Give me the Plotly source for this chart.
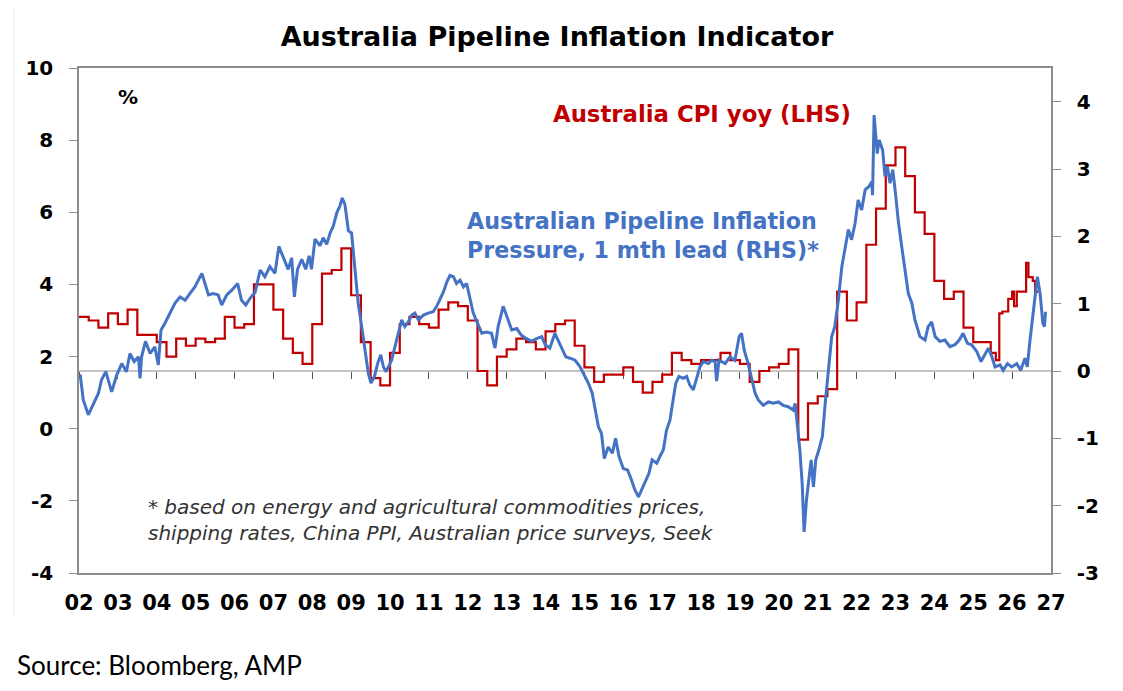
"""
Australia Pipeline Inflation Indicator — CPI yoy (LHS, step) vs pipeline pressure (RHS).
Values read off the AMP chart by eye.
"""
import plotly.graph_objects as go

# ── Australia CPI yoy (%), quarterly steps from 2002Q1 ──
cpi_q_start = 2002.0
cpi_q = [3.1, 3.0, 2.8, 3.2, 2.9, 3.3, 2.6, 2.6,
         2.4, 2.0, 2.5, 2.3, 2.5, 2.4, 2.5, 3.1,
         2.8, 2.9, 4.0, 4.0, 3.3, 2.5, 2.1, 1.8,
         2.9, 4.3, 4.4, 5.0, 3.7, 2.4, 1.4, 1.2,
         2.1, 2.9, 3.1, 2.9, 2.8, 3.3, 3.5, 3.4,
         3.0, 1.6, 1.2, 2.0, 2.2, 2.5, 2.4, 2.2,
         2.7, 2.9, 3.0, 2.3, 1.7, 1.3, 1.5, 1.5,
         1.7, 1.3, 1.0, 1.3, 1.5, 2.1, 1.9, 1.8,
         1.9, 1.9, 2.1, 1.9, 1.8, 1.3, 1.6, 1.7,
         1.8, 2.2, -0.3, 0.7, 0.9, 1.1, 3.8, 3.0,
         3.5, 5.1, 6.1, 7.3, 7.8, 7.0, 6.0, 5.4,
         4.1, 3.6, 3.8, 2.8, 2.4, 2.4]
# monthly CPI tail
cpi_m_x = [2025.45, 2025.58, 2025.67, 2025.75, 2025.90, 2026.00, 2026.05,
           2026.12, 2026.36, 2026.42, 2026.53, 2026.59, 2026.67]
cpi_m = [2.1, 1.9, 3.2, 3.25, 3.6, 3.8, 3.4, 3.8, 4.6, 4.2, 4.1, 3.8, 3.8]

# ── Pipeline inflation pressure (RHS) ──
pip_x = [2002.03, 2002.11, 2002.24, 2002.37, 2002.50, 2002.58, 2002.69, 2002.84, 2002.97,
         2003.10, 2003.22, 2003.31, 2003.42, 2003.53, 2003.57, 2003.61, 2003.71, 2003.83, 2003.95,
         2004.04, 2004.11, 2004.21, 2004.34, 2004.47, 2004.60, 2004.73, 2004.85, 2004.98,
         2005.07, 2005.16, 2005.24, 2005.33, 2005.45, 2005.58, 2005.67, 2005.80, 2005.93,
         2006.08, 2006.18, 2006.29, 2006.40, 2006.53, 2006.66, 2006.78, 2006.91,
         2007.04, 2007.14, 2007.25, 2007.38, 2007.47, 2007.54, 2007.62, 2007.73, 2007.83, 2007.92, 2007.98,
         2008.07, 2008.20, 2008.28, 2008.37, 2008.46, 2008.54, 2008.63, 2008.71, 2008.77, 2008.84, 2008.93,
         2009.01, 2009.10, 2009.18, 2009.27, 2009.36, 2009.44, 2009.51, 2009.60, 2009.68, 2009.76, 2009.83, 2009.90,
         2010.04, 2010.13, 2010.21, 2010.30, 2010.38, 2010.47, 2010.56, 2010.64, 2010.73, 2010.86, 2010.98,
         2011.11, 2011.20, 2011.28, 2011.37, 2011.46, 2011.54, 2011.63, 2011.71, 2011.80, 2011.89, 2011.97,
         2012.06, 2012.14, 2012.25, 2012.36, 2012.48, 2012.61, 2012.70, 2012.78, 2012.91,
         2013.04, 2013.13, 2013.26, 2013.38, 2013.51, 2013.64, 2013.77, 2013.90, 2013.99,
         2014.11, 2014.24, 2014.33, 2014.41, 2014.52, 2014.63, 2014.76, 2014.89,
         2015.00, 2015.10, 2015.20, 2015.27, 2015.36, 2015.44, 2015.51, 2015.61, 2015.72, 2015.80, 2015.89,
         2016.00, 2016.11, 2016.21, 2016.30, 2016.39, 2016.47, 2016.57, 2016.66, 2016.74, 2016.86, 2016.94,
         2017.03, 2017.11, 2017.20, 2017.28, 2017.35, 2017.43, 2017.54, 2017.63, 2017.71, 2017.80, 2017.88, 2017.97,
         2018.06, 2018.19, 2018.27, 2018.36, 2018.40, 2018.46, 2018.62, 2018.74, 2018.87, 2018.98,
         2019.04, 2019.11, 2019.21, 2019.30, 2019.39, 2019.47, 2019.60, 2019.73, 2019.86, 2019.99,
         2020.11, 2020.24, 2020.37, 2020.42, 2020.48, 2020.54, 2020.60, 2020.65, 2020.71, 2020.78, 2020.83, 2020.89, 2020.95,
         2021.03, 2021.12, 2021.20, 2021.29, 2021.36, 2021.44, 2021.53, 2021.62, 2021.70, 2021.79, 2021.87, 2021.96,
         2022.04, 2022.13, 2022.22, 2022.32, 2022.39, 2022.41, 2022.45, 2022.53, 2022.58, 2022.67, 2022.73, 2022.79, 2022.86, 2022.93, 2022.99,
         2023.07, 2023.16, 2023.24, 2023.33, 2023.42, 2023.50, 2023.63, 2023.76, 2023.84, 2023.93,
         2024.02, 2024.14, 2024.27, 2024.40, 2024.53, 2024.64, 2024.74, 2024.85, 2024.96,
         2025.09, 2025.20, 2025.30, 2025.39, 2025.48, 2025.56, 2025.69, 2025.77, 2025.88, 2025.99,
         2026.12, 2026.22, 2026.33, 2026.39, 2026.46, 2026.53, 2026.59, 2026.65, 2026.72, 2026.79, 2026.83, 2026.86]
pip_v = [-0.05, -0.43, -0.65, -0.48, -0.33, -0.13, -0.01, -0.31, -0.06,
         0.11, -0.01, 0.26, 0.14, 0.21, -0.11, 0.21, 0.44, 0.26, 0.36,
         0.09, 0.61, 0.71, 0.86, 1.01, 1.10, 1.05, 1.15, 1.25,
         1.35, 1.45, 1.30, 1.13, 1.15, 1.13, 0.98, 1.13, 1.20,
         1.30, 1.05, 0.98, 1.08, 1.17, 1.50, 1.40, 1.55,
         1.45, 1.85, 1.68, 1.51, 1.68, 1.10, 1.51, 1.66, 1.51, 1.71, 1.51,
         1.96, 1.86, 1.98, 1.88, 2.05, 2.15, 2.35, 2.45, 2.57, 2.47, 2.08,
         2.05, 1.51, 1.01, 0.66, 0.26, -0.03, -0.18, -0.08, 0.11, 0.24, 0.06, -0.01,
         0.16, 0.36, 0.56, 0.76, 0.66, 0.73, 0.83, 0.86, 0.76, 0.83, 0.86,
         0.88, 0.96, 1.05, 1.17, 1.32, 1.42, 1.40, 1.30, 1.35, 1.25, 1.30,
         1.05, 0.86, 0.71, 0.56, 0.58, 0.56, 0.34, 0.66, 0.96,
         0.76, 0.61, 0.63, 0.53, 0.48, 0.44, 0.48, 0.51, 0.39,
         0.34, 0.56, 0.44, 0.34, 0.21, 0.19, 0.16, 0.06,
         -0.06, -0.18, -0.33, -0.53, -0.83, -0.93, -1.30, -1.13, -1.22, -1.00, -1.27,
         -1.45, -1.47, -1.62, -1.77, -1.87, -1.77, -1.62, -1.52, -1.32, -1.37, -1.27,
         -1.17, -0.88, -0.73, -0.43, -0.18, -0.08, -0.11, -0.08, -0.21, -0.28, -0.13, 0.06,
         0.14, 0.11, 0.16, 0.14, -0.15, 0.16, 0.11, 0.21, 0.16, 0.51,
         0.56, 0.31, 0.11, -0.13, -0.33, -0.43, -0.51, -0.46, -0.48, -0.46,
         -0.51, -0.53, -0.58, -0.48, -0.83, -1.17, -1.67, -2.39, -1.92, -1.52, -1.32, -1.72, -1.32,
         -1.17, -0.97, -0.43, 0.11, 0.51, 0.66, 1.05, 1.55, 1.80, 2.10, 1.95, 2.19,
         2.54, 2.39, 2.69, 2.74, 2.81, 2.61, 3.80, 3.23, 3.43, 3.28, 2.89, 3.04, 2.79, 2.99, 2.69,
         2.24, 1.85, 1.50, 1.15, 1.01, 0.76, 0.51, 0.46, 0.66, 0.73,
         0.51, 0.44, 0.46, 0.36, 0.39, 0.46, 0.56, 0.41, 0.39,
         0.29, 0.14, 0.24, 0.34, 0.21, 0.06, 0.09, 0.01, 0.11, 0.06,
         0.11, 0.01, 0.19, 0.06, 0.46, 0.81, 1.15, 1.40, 1.15, 0.71, 0.66, 0.88]

years = list(range(2002, 2028))
year_labels = [f'{y % 100:02d}' for y in years]
lhs_ticks = [-4, -2, 0, 2, 4, 6, 8, 10]
rhs_ticks = [-3, -2, -1, 0, 1, 2, 3, 4]

RED, BLUE = '#C00000', '#4472C4'
AX = '#8c8c8c'
BOLD = dict(family='DejaVu Sans', color='black', weight='bold')

cpi_x = [cpi_q_start + 0.25 * i for i in range(len(cpi_q))] + cpi_m_x
cpi_y = cpi_q + cpi_m

# page body has an 8px margin -> figure is 8px smaller, margins shifted
W, H, OFF = 1115, 683, 8
L, T, R_EDGE, B_EDGE = 79 - OFF, 68 - OFF, 1051 - OFF, 573 - OFF

fig = go.Figure()
fig.add_trace(go.Scatter(x=pip_x, y=pip_v, mode='lines', xaxis='x2', yaxis='y2',
                         line=dict(color=BLUE, width=3), name='pipeline'))
fig.add_trace(go.Scatter(x=cpi_x, y=cpi_y, mode='lines', line_shape='hv',
                         line=dict(color=RED, width=2.2), name='CPI'))

fig.update_layout(
    width=W, height=H, paper_bgcolor='white', plot_bgcolor='white',
    margin=dict(l=L, r=W - R_EDGE, t=T, b=H - B_EDGE), showlegend=False,
    title=dict(text='Australia Pipeline Inflation Indicator', x=(557 - OFF) / W, xanchor='center',
               y=1 - (37 - OFF) / H, yanchor='middle', font=dict(size=27, **BOLD)),
    xaxis=dict(range=[2002, 2027], tickvals=years, ticktext=year_labels, ticks='',
               showline=True, linecolor=AX, linewidth=1.5, mirror=True, showgrid=False,
               zeroline=False, tickfont=dict(size=21, **BOLD), ticklabelstandoff=10),
    xaxis2=dict(range=[2002, 2027], overlaying='x', anchor='free', position=0.4,
                tickvals=years, showticklabels=False, ticks='outside', ticklen=7,
                tickcolor='#555555', tickwidth=1.3, showline=True, linecolor='#c4c4c4',
                linewidth=2, showgrid=False, zeroline=False, layer='below traces'),
    yaxis=dict(range=[-4, 10], tickvals=lhs_ticks, ticktext=[str(v) for v in lhs_ticks],
               ticks='outside', ticklen=8, tickcolor=AX,
               showline=True, linecolor=AX, linewidth=1.5, showgrid=False, zeroline=False,
               tickfont=dict(size=20, **BOLD), ticklabelstandoff=12),
    yaxis2=dict(range=[-3, 4.5], tickvals=rhs_ticks, ticktext=[str(v) for v in rhs_ticks],
                overlaying='y', side='right', anchor='x', ticks='outside', ticklen=8, tickcolor=AX,
                showline=True, linecolor=AX, linewidth=1.5, showgrid=False, zeroline=False,
                tickfont=dict(size=20, **BOLD), ticklabelstandoff=12),
)

def px(x):  # screen px -> paper x
    return (x - 79) / 972

def py(y):  # screen px -> paper y
    return (573 - y) / 505

notes = [
    dict(text='%', x=px(128), y=py(97), xanchor='center', font=dict(size=20, **BOLD)),
    dict(text='Australia CPI yoy (LHS)', x=px(551), y=py(114), xanchor='left',
         font=dict(size=22.8, family='DejaVu Sans', color=RED, weight='bold')),
    dict(text='Australian Pipeline Inflation<br>Pressure, 1 mth lead (RHS)*', x=px(465),
         y=py(236), xanchor='left', align='left',
         font=dict(size=22.2, family='DejaVu Sans', color=BLUE, weight='bold')),
    dict(text='* based on energy and agricultural commodities prices,<br>'
              'shipping rates, China PPI, Australian price surveys, Seek',
         x=px(146), y=py(520), xanchor='left', align='left',
         font=dict(size=20, family='DejaVu Sans', color='#333333', style='italic')),
    dict(text='Source: Bloomberg, AMP', x=px(15), y=py(665), xanchor='left',
         font=dict(size=26, family='Lato', color='black')),
]
for n in notes:
    fig.add_annotation(xref='paper', yref='paper', yanchor='middle', showarrow=False, **n)

# faint outer border of the pasted chart
fig.add_shape(type='line', xref='paper', yref='paper', x0=px(14), x1=px(14),
              y0=py(617), y1=py(0), line=dict(color='#ececec', width=1))

fig.write_html('out.html')
